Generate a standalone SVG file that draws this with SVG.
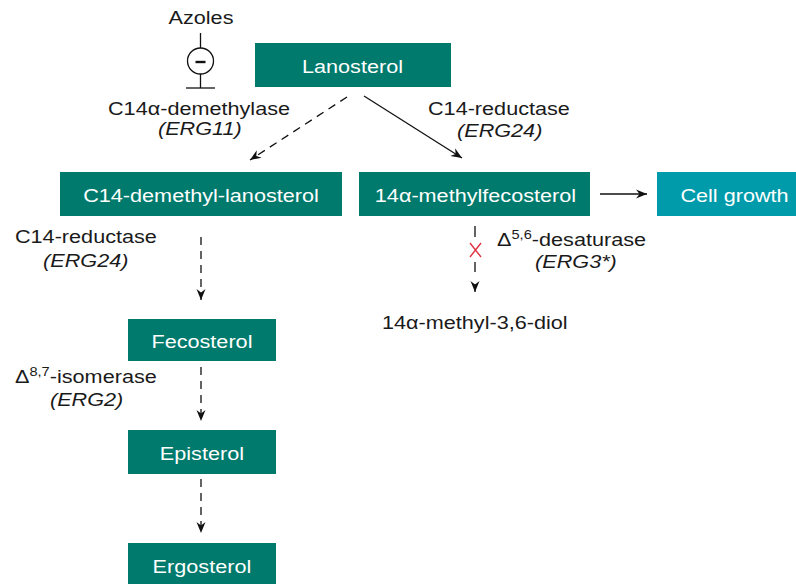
<svg xmlns="http://www.w3.org/2000/svg" width="796" height="584" viewBox="0 0 796 584">
<defs>
<style>
.box{fill:#007A6C;}
.box2{fill:#009BAA;}
text{font-family:"Liberation Sans",Arial,sans-serif;font-size:18.5px;}
.lbl{fill:#1a1a1a;}
.nt{fill:#ffffff;text-anchor:middle;}
.it{font-style:italic;}
.sup{font-size:12.5px;}
.ln{stroke:#111;stroke-width:1.3;fill:none;}
.dash{stroke-dasharray:8 6;}
</style>
<marker id="ah" viewBox="-12 -6 13 12" refX="0" refY="0" markerWidth="13" markerHeight="12" markerUnits="userSpaceOnUse" orient="auto">
<path d="M0,0 L-11,-4.5 L-7.5,0 L-11,4.5 Z" fill="#111" stroke="none"/>
</marker>
</defs>
<rect width="796" height="584" fill="#ffffff"/>

<g id="connectors">
<line class="ln dash" x1="347" y1="97" x2="250" y2="160" marker-end="url(#ah)"/>
<line class="ln" x1="364" y1="96" x2="462" y2="158" marker-end="url(#ah)"/>
<line class="ln" x1="600" y1="194" x2="647" y2="194" marker-end="url(#ah)"/>
<line class="ln dash" x1="201" y1="237" x2="201" y2="300" marker-end="url(#ah)"/>
<line class="ln dash" x1="201" y1="367" x2="201" y2="421" marker-end="url(#ah)"/>
<line class="ln dash" x1="201" y1="479" x2="201" y2="533" marker-end="url(#ah)"/>
<path class="ln" d="M475,226 V237 M475,262 V272"/>
<line class="ln" x1="475" y1="284" x2="475" y2="292" marker-end="url(#ah)"/>
<path d="M470,243 L481,257 M481,243 L470,257" stroke="#E0303F" stroke-width="1.4" fill="none"/>
</g>

<g id="azoles">
<text class="lbl" transform="scale(1.17 1)" x="171.8" y="24" text-anchor="middle">Azoles</text>
<line class="ln" x1="200.5" y1="33" x2="200.5" y2="48"/>
<circle cx="200.5" cy="61" r="13" fill="none" stroke="#111" stroke-width="1.3"/>
<line x1="195.5" y1="62" x2="205.5" y2="62" stroke="#111" stroke-width="2.4"/>
<line class="ln" x1="200.5" y1="74" x2="200.5" y2="88"/>
<line class="ln" x1="186" y1="88" x2="215" y2="88"/>
</g>

<g id="lanosterol">
<rect class="box" x="255" y="43" width="196" height="44"/>
<text class="nt" transform="scale(1.17 1)" x="301.3" y="73">Lanosterol</text>
</g>

<g id="label-erg11">
<text class="lbl" transform="scale(1.17 1)" x="92.3" y="115">C14α-demethylase</text>
<text class="lbl it" transform="scale(1.17 1)" x="135" y="135.5">(ERG11)</text>
</g>

<g id="label-erg24-top">
<text class="lbl" transform="scale(1.17 1)" x="365.8" y="115">C14-reductase</text>
<text class="lbl it" transform="scale(1.17 1)" x="390.6" y="137">(ERG24)</text>
</g>

<g id="c14-demethyl-lanosterol">
<rect class="box" x="60" y="172" width="282" height="44"/>
<text class="nt" transform="scale(1.17 1)" x="171.8" y="202">C14-demethyl-lanosterol</text>
</g>

<g id="methylfecosterol">
<rect class="box" x="359" y="172" width="231" height="44"/>
<text class="nt" transform="scale(1.17 1)" x="406.4" y="202">14α-methylfecosterol</text>
</g>

<g id="cell-growth">
<rect class="box2" x="657" y="172" width="160" height="44"/>
<text class="nt" transform="scale(1.17 1)" x="627.8" y="202">Cell growth</text>
</g>

<g id="label-erg24-left">
<text class="lbl" transform="scale(1.17 1)" x="12.8" y="243">C14-reductase</text>
<text class="lbl it" transform="scale(1.17 1)" x="36.8" y="267">(ERG24)</text>
</g>

<g id="label-erg3">
<text class="lbl" transform="scale(1.17 1)" x="424.8" y="246">Δ<tspan class="sup" dy="-7">5,6</tspan><tspan dy="7">-desaturase</tspan></text>
<text class="lbl it" transform="scale(1.17 1)" x="457.3" y="268">(ERG3*)</text>
</g>

<g id="diol">
<text class="lbl" transform="scale(1.17 1)" x="326.5" y="329">14α-methyl-3,6-diol</text>
</g>

<g id="fecosterol">
<rect class="box" x="128" y="319" width="148" height="42"/>
<text class="nt" transform="scale(1.17 1)" x="172.6" y="348">Fecosterol</text>
</g>

<g id="label-erg2">
<text class="lbl" transform="scale(1.17 1)" x="12.8" y="383">Δ<tspan class="sup" dy="-7">8,7</tspan><tspan dy="7">-isomerase</tspan></text>
<text class="lbl it" transform="scale(1.17 1)" x="42.7" y="406">(ERG2)</text>
</g>

<g id="episterol">
<rect class="box" x="128" y="430" width="148" height="44"/>
<text class="nt" transform="scale(1.17 1)" x="172.6" y="460">Episterol</text>
</g>

<g id="ergosterol">
<rect class="box" x="128" y="543" width="148" height="44"/>
<text class="nt" transform="scale(1.17 1)" x="172.6" y="573">Ergosterol</text>
</g>
</svg>
